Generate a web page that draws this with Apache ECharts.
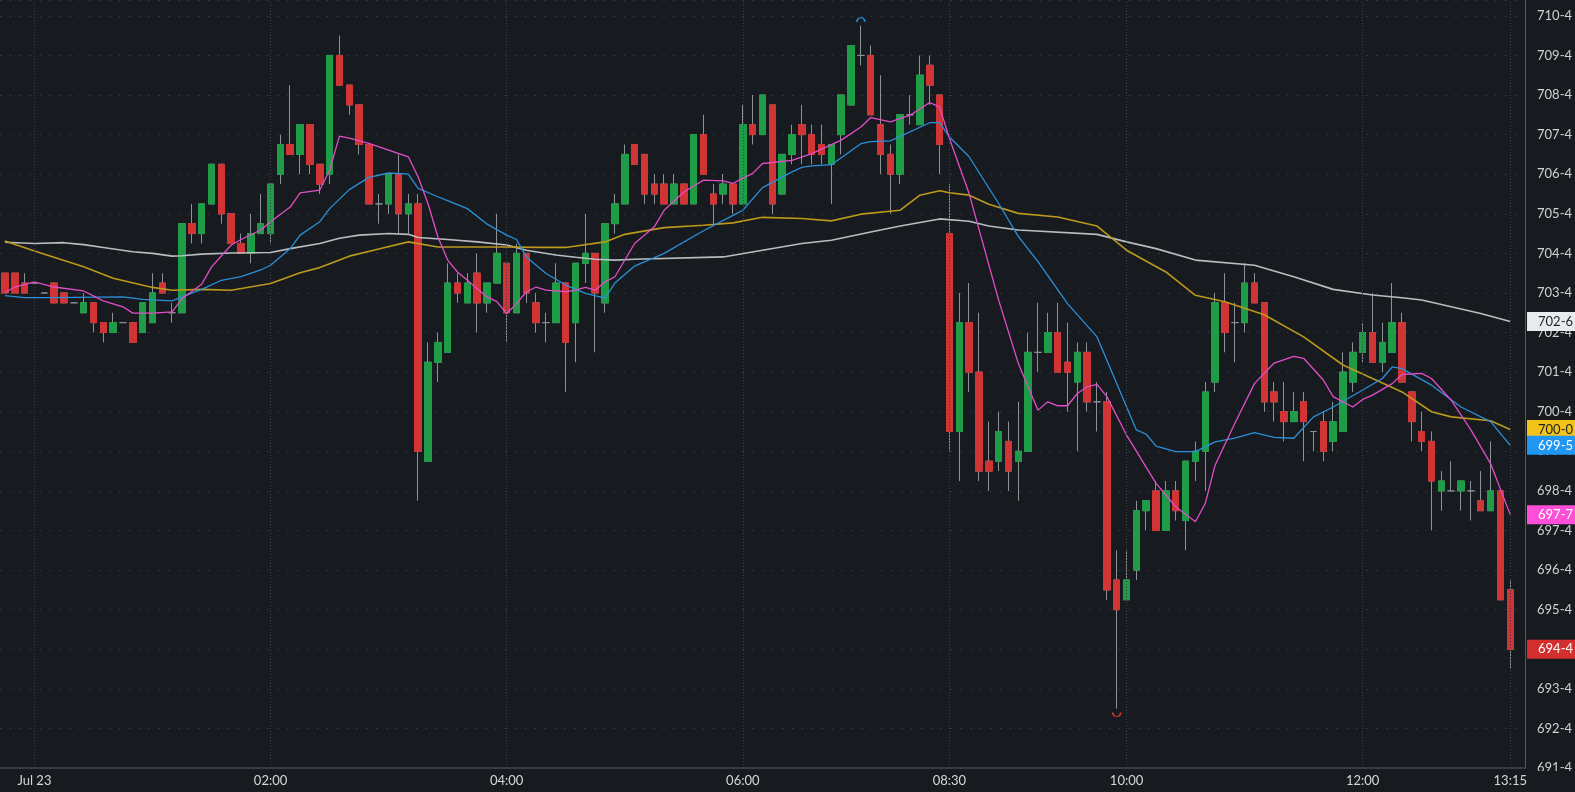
<!DOCTYPE html>
<html>
<head>
<meta charset="utf-8">
<title>candles</title>
<script src="https://cdn.jsdelivr.net/npm/echarts/dist/echarts.min.js"></script>
<style>
html, body { margin: 0; padding: 0; background: #171b1f; }
#root { width: 1575px; height: 792px; }
</style>
</head>
<body>
<div id="root"></div>
<script>
// 5 min bars, 23:45 -> 07:40 then 08:30 -> 13:15 (+ one empty slot)
var times = [];
function addTimes(h, m, count) {
    for (var k = 0; k < count; k++) {
        times.push((h < 10 ? '0' : '') + h + ':' + (m < 10 ? '0' : '') + m);
        m += 5;
        if (m >= 60) { m -= 60; h = (h + 1) % 24; }
    }
}
addTimes(23, 45, 96);
addTimes(8, 30, 59);

var tickIdx = [3, 27, 51, 75, 96, 114, 138, 153];
var tickText = ['Jul 23', '02:00', '04:00', '06:00', '08:30', '10:00', '12:00', '13:15'];

// [open, close, low, high]
var ohlc = [
    [704.0, 703.5, 703.5, 704.0], [704.0, 703.5, 703.5, 704.0], [703.75, 703.5, 703.5, 704.0], [703.75, 703.75, 703.75, 703.75],
    [703.5, 703.5, 703.5, 703.5], [703.75, 703.25, 703.25, 703.75], [703.5, 703.25, 703.25, 703.5], [703.25, 703.25, 703.25, 703.25],
    [703.0, 703.25, 703.0, 703.5], [703.25, 702.75, 702.5, 703.25], [702.75, 702.5, 702.25, 702.75], [702.5, 702.75, 702.5, 703.0],
    [702.75, 702.75, 702.75, 702.75], [702.75, 702.25, 702.25, 702.75], [702.5, 703.25, 702.5, 703.25], [702.75, 703.5, 702.75, 704.0],
    [703.75, 703.5, 703.5, 704.0], [703.0, 703.0, 702.75, 703.25], [703.0, 705.25, 703.0, 705.25], [705.25, 705.0, 704.75, 705.75],
    [705.0, 705.75, 704.75, 705.75], [705.75, 706.75, 705.75, 706.75], [706.75, 705.5, 705.25, 706.75], [705.5, 704.75, 704.75, 705.5],
    [704.75, 704.5, 704.5, 705.0], [704.5, 705.0, 704.25, 705.5], [705.0, 705.25, 705.0, 706.0], [705.0, 706.25, 704.75, 706.25],
    [706.5, 707.25, 706.25, 707.5], [707.25, 707.0, 707.0, 708.75], [707.0, 707.75, 706.5, 707.75], [707.75, 706.75, 706.5, 707.75],
    [706.75, 706.25, 706.0, 706.75], [706.5, 709.5, 706.25, 709.5], [709.5, 708.75, 708.75, 710.0], [708.75, 708.25, 708.0, 708.75],
    [708.25, 707.25, 707.0, 708.25], [707.25, 705.75, 705.75, 707.25], [705.75, 705.75, 705.25, 706.0], [705.75, 706.5, 705.5, 706.5],
    [706.5, 705.5, 705.0, 707.0], [705.5, 705.75, 705.0, 706.0], [705.75, 699.5, 698.25, 706.0], [699.25, 701.75, 699.25, 702.25],
    [701.75, 702.25, 701.25, 702.5], [702.0, 703.75, 702.0, 704.25], [703.75, 703.5, 703.25, 704.0], [703.25, 703.75, 703.25, 704.0],
    [704.0, 703.25, 702.5, 704.5], [703.25, 703.75, 703.0, 703.75], [703.75, 704.5, 703.75, 705.5], [704.25, 703.0, 702.25, 704.25],
    [703.0, 704.5, 703.0, 704.75], [704.5, 703.5, 703.25, 704.5], [703.25, 702.75, 702.5, 703.5], [702.75, 702.75, 702.25, 703.0],
    [702.75, 703.75, 702.75, 704.25], [703.75, 702.25, 701.0, 703.75], [702.75, 704.25, 701.75, 704.25], [704.25, 704.5, 703.75, 705.5],
    [704.5, 703.5, 702.0, 704.5], [703.25, 705.25, 703.0, 705.25], [705.25, 705.75, 705.0, 706.0], [705.75, 707.0, 705.75, 707.25],
    [707.25, 706.75, 706.75, 707.25], [707.0, 706.0, 705.75, 707.0], [706.25, 706.0, 705.75, 706.5], [706.25, 705.75, 705.75, 706.5],
    [705.75, 706.25, 705.75, 706.5], [706.25, 705.75, 705.75, 706.25], [705.75, 707.5, 705.75, 707.5], [707.5, 706.5, 706.5, 708.0],
    [706.0, 705.75, 705.25, 706.25], [706.0, 706.25, 705.75, 706.5], [706.25, 705.75, 705.5, 706.25], [705.75, 707.75, 705.75, 708.25],
    [707.75, 707.5, 707.25, 708.5], [707.5, 708.5, 707.5, 708.5], [708.25, 705.75, 705.5, 708.25], [706.0, 707.0, 706.0, 707.0],
    [707.0, 707.5, 706.75, 707.75], [707.75, 707.5, 706.75, 708.25], [707.5, 707.0, 706.75, 707.75], [707.25, 707.0, 706.75, 707.75],
    [706.75, 707.25, 705.75, 707.25], [707.5, 708.5, 707.0, 708.5], [708.25, 709.75, 708.25, 709.75], [709.5, 709.5, 709.25, 710.25],
    [709.5, 708.0, 708.0, 709.75], [707.75, 707.0, 706.5, 709.0], [707.0, 706.5, 705.5, 707.25], [706.5, 708.0, 706.25, 708.0],
    [708.0, 708.0, 707.75, 708.5], [707.75, 709.0, 707.75, 709.5], [709.25, 708.75, 708.25, 709.5], [708.5, 707.25, 706.5, 708.5],
    [705.0, 700.0, 699.5, 706.25], [700.0, 702.75, 698.75, 703.5], [702.75, 701.5, 701.0, 703.75], [701.5, 699.0, 698.75, 703.0],
    [699.25, 699.0, 698.5, 700.25], [699.25, 700.0, 699.0, 700.5], [699.75, 699.0, 698.5, 700.25], [699.25, 699.5, 698.25, 700.75],
    [699.5, 702.0, 699.5, 702.5], [702.0, 702.0, 701.5, 703.25], [702.0, 702.5, 702.0, 703.0], [702.5, 701.5, 701.5, 703.25],
    [701.75, 701.5, 700.5, 702.75], [701.25, 702.0, 699.5, 702.25], [702.0, 700.75, 700.5, 702.25], [700.75, 700.75, 700.0, 701.25],
    [700.75, 696.0, 695.75, 701.0], [696.25, 695.5, 693.0, 697.0], [695.75, 696.25, 695.75, 697.0], [696.5, 698.0, 696.25, 698.25],
    [698.0, 698.25, 697.5, 698.25], [698.5, 697.5, 697.5, 698.75], [697.5, 698.5, 697.5, 698.75], [698.5, 698.0, 697.75, 698.75],
    [697.75, 699.25, 697.0, 699.25], [699.25, 699.5, 698.75, 699.75], [699.5, 701.0, 698.5, 701.25], [701.25, 703.25, 701.0, 703.5],
    [703.25, 702.5, 702.0, 704.0], [702.75, 702.75, 701.75, 703.25], [702.75, 703.75, 702.5, 704.25], [703.75, 703.25, 703.25, 704.0],
    [703.25, 700.75, 700.5, 703.25], [701.0, 700.75, 700.25, 701.25], [700.5, 700.25, 699.75, 701.25], [700.25, 700.5, 700.25, 701.0],
    [700.75, 700.25, 699.25, 701.0], [700.0, 700.0, 699.5, 700.0], [700.25, 699.5, 699.25, 700.5], [699.75, 700.25, 699.5, 700.75],
    [700.0, 701.5, 700.0, 702.0], [701.25, 702.0, 701.0, 702.25], [702.0, 702.5, 701.75, 702.75], [702.5, 701.75, 701.75, 703.5],
    [701.75, 702.25, 701.5, 702.75], [702.0, 702.75, 702.0, 703.75], [702.75, 701.25, 701.25, 703.0], [701.0, 700.25, 699.75, 701.0],
    [700.0, 699.75, 699.5, 700.5], [699.75, 698.75, 697.5, 700.0], [698.5, 698.75, 698.0, 699.0], [698.5, 698.5, 698.5, 699.25],
    [698.5, 698.75, 698.0, 698.75], [698.5, 698.5, 697.75, 698.75], [698.25, 698.0, 698.0, 699.0], [698.0, 698.5, 698.0, 699.75],
    [698.5, 695.75, 695.75, 698.5], [696.0, 694.5, 694.0, 696.25]
];

// moving averages: [bar index, value]
var maPink = [[0, 703.51], [1, 703.65], [3, 703.78], [5, 703.65], [8, 703.55], [10, 703.30], [12, 703.15], [13, 702.99], [15, 702.99],
    [17, 703.02], [18, 703.36], [20, 703.72], [21, 704.16], [23, 704.71], [24, 704.85], [26, 705.09], [27, 705.30], [29, 705.67],
    [30, 706.03], [32, 706.10], [33, 706.60], [34, 707.46], [35, 707.41], [37, 707.28], [39, 707.11], [41, 706.94], [42, 706.43],
    [43, 705.76], [44, 704.92], [45, 704.33], [46, 704.03], [47, 703.82], [49, 703.40], [50, 703.28], [51, 702.98], [52, 703.23],
    [53, 703.53], [54, 703.65], [55, 703.57], [57, 703.53], [58, 703.57], [59, 703.64], [60, 703.57], [61, 703.78], [62, 703.91],
    [64, 704.75], [66, 705.17], [67, 705.59], [69, 706.05], [71, 706.35], [73, 706.33], [74, 706.27], [76, 706.52], [77, 706.77],
    [80, 706.85], [82, 707.02], [85, 707.36], [87, 707.69], [88, 707.93], [90, 707.82], [92, 707.99], [94, 708.31], [95, 708.20],
    [96, 707.40], [98, 706.01], [101, 703.32], [103, 701.72], [105, 700.54], [106, 700.75], [107, 700.65], [108, 700.65],
    [109, 700.96], [110, 701.13], [111, 701.19], [112, 700.88], [114, 699.91], [117, 698.69], [119, 698.10], [121, 697.72],
    [122, 698.18], [123, 699.15], [125, 700.20], [127, 701.21], [129, 701.73], [131, 701.90], [132, 701.85], [134, 701.30],
    [135, 700.88], [137, 700.62], [138, 700.81], [139, 700.92], [141, 701.21], [142, 701.44], [144, 701.47], [145, 701.34],
    [147, 700.79], [149, 700.04], [151, 699.19], [153, 697.90]];
var maBlue = [[0, 703.43], [2, 703.38], [5, 703.38], [12, 703.40], [14, 703.34], [17, 703.30], [18, 703.40], [20, 703.59], [22, 703.82],
    [24, 703.91], [26, 704.08], [27, 704.20], [29, 704.62], [30, 704.96], [32, 705.30], [33, 705.63], [35, 706.11], [37, 706.42],
    [39, 706.53], [41, 706.50], [42, 706.14], [44, 705.93], [45, 705.83], [47, 705.63], [49, 705.24], [51, 704.96], [52, 704.85],
    [53, 704.41], [55, 703.99], [57, 703.70], [59, 703.49], [61, 703.37], [62, 703.75], [64, 704.18], [67, 704.50], [71, 705.07],
    [74, 705.46], [75, 705.59], [77, 706.16], [80, 706.56], [81, 706.67], [82, 706.71], [84, 706.74], [87, 707.27], [88, 707.32],
    [90, 707.34], [94, 707.80], [95, 707.80], [96, 707.44], [98, 706.94], [101, 705.76], [103, 704.93], [105, 704.29], [108, 703.23],
    [111, 702.39], [113, 701.21], [115, 700.04], [116, 699.93], [117, 699.63], [119, 699.49], [121, 699.49], [123, 699.74],
    [125, 699.83], [127, 699.97], [129, 699.85], [131, 699.83], [133, 700.37], [135, 700.62], [138, 701.05], [140, 701.34],
    [141, 701.63], [142, 701.59], [145, 701.17], [148, 700.62], [151, 700.25], [153, 699.65]];
var maGold = [[0, 704.81], [3, 704.56], [8, 704.16], [11, 703.87], [15, 703.64], [17, 703.57], [20, 703.59], [23, 703.57], [27, 703.74],
    [30, 704.01], [32, 704.14], [35, 704.43], [38, 704.61], [41, 704.79], [44, 704.66], [47, 704.66], [51, 704.66], [54, 704.65],
    [57, 704.65], [61, 704.79], [63, 704.98], [67, 705.15], [71, 705.21], [74, 705.27], [77, 705.41], [81, 705.38], [84, 705.32],
    [87, 705.49], [91, 705.59], [93, 705.97], [95, 706.08], [96, 706.03], [98, 705.97], [100, 705.74], [103, 705.51], [107, 705.42],
    [111, 705.19], [114, 704.58], [118, 704.03], [121, 703.44], [124, 703.28], [128, 702.95], [132, 702.39], [136, 701.68],
    [139, 701.34], [142, 701.00], [145, 700.50], [147, 700.37], [151, 700.27], [153, 700.05]];
var maGray = [[0, 704.78], [3, 704.75], [6, 704.77], [8, 704.72], [10, 704.65], [13, 704.54], [15, 704.50], [17, 704.43], [18, 704.44],
    [20, 704.48], [23, 704.51], [27, 704.52], [29, 704.62], [32, 704.75], [34, 704.88], [36, 704.96], [39, 705.00], [41, 704.98],
    [42, 704.90], [45, 704.85], [48, 704.79], [51, 704.71], [53, 704.58], [56, 704.46], [58, 704.40], [60, 704.35], [62, 704.33],
    [64, 704.35], [73, 704.41], [77, 704.58], [81, 704.75], [84, 704.83], [88, 705.04], [91, 705.19], [95, 705.37], [98, 705.31],
    [100, 705.19], [103, 705.09], [111, 704.98], [114, 704.79], [117, 704.62], [121, 704.33], [127, 704.20], [131, 703.91],
    [135, 703.59], [139, 703.45], [142, 703.38], [144, 703.32], [147, 703.15], [150, 702.98], [153, 702.78]];

// price in points-eighths, e.g. 702.75 -> 702-6
function fmt(v) {
    var w = Math.floor(v + 1e-9);
    var e = Math.round((v - w) * 8);
    if (e == 8) { w++; e = 0; }
    return w + '-' + e;
}

var bg = '#171b1f';
var upColor = '#1f9c47';
var downColor = '#d13434';
var wickColor = '#8d9297';

var bodies = ohlc.map(function (r) {
    if (r[0] === r[1]) return '-';
    return [r[0], r[1], Math.min(r[0], r[1]), Math.max(r[0], r[1])];
});

// last-value tag on the price axis
function tag(value, fill, text) {
    return {
        silent: true,
        symbol: ['none', 'none'],
        lineStyle: { color: 'rgba(0,0,0,0)', width: 1, type: 'solid' },
        label: {
            show: true, position: 'end', distance: 2,
            formatter: function () { return fmt(value); },
            color: text, backgroundColor: fill,
            padding: [3, 12, 3, 11], fontSize: 13, fontFamily: 'Lato'
        },
        data: [{ yAxis: value }]
    };
}

function maLine(name, data, color, width, fill, text) {
    return {
        name: name, type: 'line', data: data, z: 4, silent: true,
        showSymbol: false, symbol: 'none',
        lineStyle: { color: color, width: width },
        markLine: tag(data[data.length - 1][1], fill, text)
    };
}

var lastClose = ohlc[ohlc.length - 1][1];

var myChart = echarts.init(document.getElementById('root'));
var option = {
    animation: false,
    backgroundColor: bg,
    grid: { left: -4.5, right: 47, top: 0, bottom: 24 },
    xAxis: {
        type: 'category',
        data: times,
        boundaryGap: true,
        axisLine: { lineStyle: { color: '#3b4852', width: 1.5 } },
        axisTick: {
            alignWithLabel: true, length: 4,
            interval: function (i) { return tickIdx.indexOf(i) >= 0; },
            lineStyle: { color: '#3b4852' }
        },
        axisLabel: {
            interval: function (i) { return tickIdx.indexOf(i) >= 0; },
            formatter: function (v, i) { return tickText[tickIdx.indexOf(i)]; },
            color: '#d4d7da', fontSize: 13, fontFamily: 'Lato', margin: 6
        },
        splitLine: { show: false }
    },
    yAxis: {
        type: 'value',
        position: 'right',
        min: 691.5,
        max: 710.9,
        interval: 1,
        axisLine: { show: true, lineStyle: { color: '#4b5b68' } },
        axisTick: { show: false },
        axisLabel: {
            formatter: fmt, showMaxLabel: false,
            color: '#cdd1d5', fontSize: 13, fontFamily: 'Lato', margin: 12
        },
        splitLine: { show: true, lineStyle: { color: '#363c43', type: [1.5, 8.4], width: 1 } }
    },
    series: [{
        name: 'wicks', type: 'candlestick', z: 1, silent: true,
        barWidth: 7,
        data: ohlc,
        itemStyle: {
            color: wickColor, color0: wickColor,
            borderColor: wickColor, borderColor0: wickColor, borderColorDoji: wickColor, borderWidth: 1
        },
        markLine: {
            silent: true,
            symbol: ['none', 'none'],
            label: { show: false },
            lineStyle: { color: '#3b4249', type: [1, 2], width: 1 },
            data: tickIdx.map(function (i) { return { xAxis: times[i] }; })
        },
        markPoint: {
            silent: true,
            label: { show: false },
            data: [{
                type: 'max', valueDim: 'highest',
                symbol: 'path://M0,10 A10,10 0 0,1 20,10', symbolSize: [8, 4], symbolOffset: [0, -6],
                itemStyle: { color: 'rgba(0,0,0,0)', borderColor: '#2b8fd9', borderWidth: 1.3 }
            }, {
                type: 'min', valueDim: 'lowest',
                symbol: 'path://M0,0 A10,10 0 0,0 20,0', symbolSize: [8, 4], symbolOffset: [0, 6],
                itemStyle: { color: 'rgba(0,0,0,0)', borderColor: '#d13434', borderWidth: 1.3 }
            }]
        }
    }, {
        name: 'bodies', type: 'candlestick', z: 3, silent: true,
        barWidth: 7,
        data: bodies,
        itemStyle: {
            color: upColor, color0: downColor,
            borderColor: upColor, borderColor0: downColor, borderWidth: 1
        },
        markLine: tag(lastClose, '#d32f2f', '#ffffff')
    },
    maLine('ma200', maGray, '#b9bdc1', 1.6, '#e8eaed', '#1d2125'),
    maLine('ma50', maGold, '#bc981b', 1.6, '#f2c318', '#1d2125'),
    maLine('ma20', maBlue, '#2b8fd9', 1.3, '#2196f3', '#ffffff'),
    maLine('ma8', maPink, '#e24dc9', 1.3, '#ff4fd8', '#ffffff')],
    graphic: [{
        type: 'rect', z: 100, silent: true,
        shape: { x: 1529, y: 771, width: 46, height: 21 },
        style: { fill: bg }
    }]
};
myChart.setOption(option);
</script>
</body>
</html>
